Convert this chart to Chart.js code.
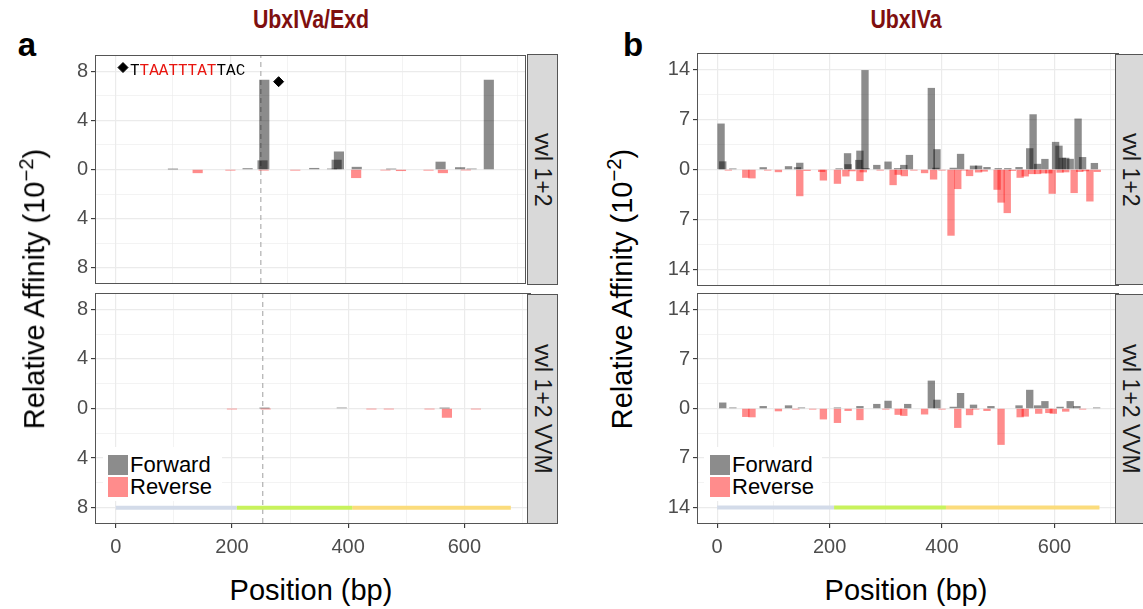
<!DOCTYPE html>
<html>
<head>
  <meta charset="utf-8">
  <title>Relative Affinity - UbxIVa/Exd and UbxIVa</title>
  <script src="https://cdn.jsdelivr.net/npm/chart.js@4.4.0/dist/chart.umd.min.js"></script>
  <style>
    body { margin: 0; background: #fff; font-family: "Liberation Sans", Arial, sans-serif; }
    #page { position: relative; width: 1143px; height: 609px; overflow: hidden; }
    .ctr { position: absolute; transform: translate(-50%, -50%); white-space: nowrap; }
    .panel { font-weight: bold; font-size: 33px; color: #000; }
    .title { font-weight: bold; font-size: 26px; color: #7f0f0f; transform: translate(-50%, -50%) scaleX(0.82); }
    .axt { font-size: 29px; color: #000; }
    .yt { transform: translate(-50%, -50%) rotate(-90deg); }
    .strip { position: absolute; box-sizing: border-box; background: #d9d9d9; border: 1px solid #555;
             display: flex; align-items: center; justify-content: center; }
    .strip span { writing-mode: vertical-rl; font-size: 23px; color: #1a1a1a; white-space: nowrap; }
    .legbox { position: absolute; background: #fff; }
    .sw { position: absolute; width: 20px; height: 20px; }
    .legtxt { position: absolute; font-size: 22px; line-height: 22px; color: #000; }
    .seq { position: absolute; font-family: "Liberation Mono", "DejaVu Sans Mono", monospace; font-size: 16px; line-height: 16px; color: #000; }
    .seq .r { color: #e8150f; }
    canvas { position: absolute; }
  </style>
</head>
<body>
<div id="page">
  <div class="ctr panel" style="left:27px; top:45px">a</div>
  <div class="ctr panel" style="left:633px; top:45px">b</div>
  <div class="ctr title" style="left:311px; top:19px">UbxIVa/Exd</div>
  <div class="ctr title" style="left:906px; top:19px">UbxIVa</div>

  <canvas id="aTop" width="483" height="239" style="left:48px; top:50px"></canvas>
  <canvas id="aBot" width="483" height="277" style="left:48px; top:290px"></canvas>
  <canvas id="bTop" width="469" height="239" style="left:650px; top:50px"></canvas>
  <canvas id="bBot" width="469" height="277" style="left:650px; top:290px"></canvas>

  <div class="strip" style="left:527px; top:54px; width:31px; height:231px"><span>vvl 1+2</span></div>
  <div class="strip" style="left:527px; top:294px; width:31px; height:230px"><span>vvl 1+2 VVM</span></div>
  <div class="strip" style="left:1115px; top:54px; width:31px; height:231px"><span>vvl 1+2</span></div>
  <div class="strip" style="left:1115px; top:294px; width:31px; height:230px"><span>vvl 1+2 VVM</span></div>

  <div class="seq" style="left:130px; top:63px">T<span class="r">TAATTTAT</span>TAC</div>

  <div class="legbox" style="left:103px; top:447px; width:119px; height:54px"></div>
  <div class="sw" style="left:108px; top:455px; background:#8c8c8c"></div>
  <div class="sw" style="left:108px; top:477px; background:#ff8c8c"></div>
  <div class="legtxt" style="left:130px; top:454px">Forward</div>
  <div class="legtxt" style="left:130px; top:476px">Reverse</div>

  <div class="legbox" style="left:704px; top:447px; width:118px; height:54px"></div>
  <div class="sw" style="left:710px; top:455px; background:#8c8c8c"></div>
  <div class="sw" style="left:710px; top:477px; background:#ff8c8c"></div>
  <div class="legtxt" style="left:732px; top:454px">Forward</div>
  <div class="legtxt" style="left:732px; top:476px">Reverse</div>

  <div class="ctr axt yt" style="left:33px; top:289px">Relative Affinity (10<sup style="font-size:0.7em">−2</sup>)</div>
  <div class="ctr axt yt" style="left:621px; top:289px">Relative Affinity (10<sup style="font-size:0.7em">−2</sup>)</div>
  <div class="ctr axt" style="left:311px; top:590px">Position (bp)</div>
  <div class="ctr axt" style="left:906px; top:590px">Position (bp)</div>
</div>

<script>
  // position (bp) -> affinity (x10^-2); reverse values are plotted downward
  const aTopForward = [[100, 0.03], [230, 0.08], [256, 0.72], [259, 7.28], [346, 0.1], [377, 0.05], [385, 0.77],
    [389, 1.44], [420, 0.19], [480, 0.04], [566, 0.61], [600, 0.16], [620, 0.05], [650, 7.28]];
  const aTopReverse = [[143, 0.27], [200, 0.06], [258, 0.06], [313, 0.06], [419, 0.67], [470, 0.05], [497, 0.1],
    [545, 0.06], [570, 0.27], [610, 0.04]];
  const aBotForward = [[256, 0.03], [389, 0.05], [566, 0.03]];
  const aBotReverse = [[200, 0.04], [258, 0.03], [440, 0.04], [470, 0.04], [540, 0.04], [570, 0.72], [620, 0.04]];

  const bTopForward = [[7, 6.4], [10, 1.1], [28, 0.1], [82, 0.28], [127, 0.42], [143, 0.28], [147, 0.9], [217, 0.12],
    [232, 2.24], [233, 0.7], [252, 1.3], [254, 2.6], [263, 13.9], [265, 0.15], [284, 0.6], [304, 1.07], [321, 0.15],
    [332, 0.6], [342, 2.0], [381, 11.4], [389, 0.2], [391, 2.8], [420, 0.2], [433, 2.15], [456, 0.5], [465, 0.5],
    [480, 0.3], [500, 0.15], [517, 0.15], [537, 0.3], [556, 2.94], [562, 7.7], [570, 0.75], [583, 1.44], [602, 3.83],
    [608, 3.3], [614, 1.6], [620, 1.6], [628, 1.45], [642, 7.1], [650, 1.7], [671, 0.87]];
  const bTopReverse = [[20, 0.1], [51, 1.12], [62, 1.2], [90, 0.1], [109, 0.33], [147, 3.7], [160, 0.15], [186, 0.3],
    [189, 1.5], [214, 1.96], [229, 0.93], [240, 0.2], [254, 1.58], [260, 0.35], [290, 0.1], [313, 2.15], [322, 0.7],
    [333, 0.9], [350, 0.1], [369, 0.47], [385, 1.36], [400, 0.1], [416, 9.24], [428, 2.7], [440, 0.1], [449, 0.88],
    [465, 0.37], [475, 0.25], [498, 2.8], [505, 4.6], [516, 6.07], [525, 0.15], [539, 1.12], [548, 0.93], [560, 0.6],
    [570, 0.6], [580, 0.5], [590, 0.5], [596, 3.36], [610, 0.4], [620, 0.35], [635, 3.26], [645, 0.3], [655, 0.2],
    [663, 4.44], [676, 0.3]];
  const bBotForward = [[10, 0.8], [28, 0.1], [82, 0.3], [127, 0.4], [150, 0.1], [214, 0.1], [254, 0.3], [284, 0.6],
    [304, 1.05], [339, 0.6], [381, 3.9], [391, 1.2], [420, 0.2], [433, 2.15], [456, 0.5], [487, 0.3], [537, 0.4],
    [556, 2.6], [570, 0.4], [583, 1.0], [610, 0.2], [628, 1.0], [640, 0.3], [675, 0.1]];
  const bBotReverse = [[51, 1.15], [62, 1.2], [109, 0.35], [140, 0.1], [170, 0.1], [189, 1.5], [214, 2.0], [233, 0.3],
    [254, 1.6], [300, 0.1], [322, 0.85], [332, 1.0], [369, 0.8], [400, 0.1], [428, 2.7], [449, 0.9], [460, 0.1],
    [480, 0.3], [505, 5.1], [539, 1.2], [548, 1.1], [572, 0.7], [590, 0.6], [598, 0.7], [620, 0.4], [650, 0.1]];

  // region track along the bottom of the lower facets
  const trackBreaks = [0, 208, 407, 680];
  const trackColors = ['#d3dbe9', '#c8f25c', '#fbdc7c'];

  // motif marks on panel a
  const motifLine = 253;
  const motifPoints = [[13, 8.3], [284, 7.15]];

  const xLabelTicks = [0, 200, 400, 600];
  const xRange = [-34, 713];
  const aYTicks = [-8, -4, 0, 4, 8];
  const bYTicks = [-14, -7, 0, 7, 14];
  const aYRange = 9.24;
  const bYRange = 16.2;

  Chart.defaults.font.family = '"Liberation Sans", Arial, sans-serif';

  function withMinor(major, upTo) {
    const step = major[1] - major[0];
    const out = [];
    for (let v = major[0] - step / 2; v <= upTo; v += step / 2) {
      if (v >= -upTo) out.push(v);
    }
    return out;
  }

  const frame = {
    id: 'frame',
    afterDraw(chart) {
      const a = chart.chartArea, c = chart.ctx;
      c.save();
      c.strokeStyle = '#555';
      c.lineWidth = 1;
      c.strokeRect(a.left - 0.5, a.top - 0.5, a.right - a.left + 1, a.bottom - a.top + 1);
      c.restore();
    }
  };

  function noPad(s) {
    s.paddingTop = 0; s.paddingBottom = 0; s.paddingLeft = 0; s.paddingRight = 0;
  }

  function facet(id, o) {
    const datasets = [
      { type: 'bar', data: o.fwd.map(p => ({ x: p[0], y: p[1] })), backgroundColor: 'rgba(0,0,0,0.45)',
        barThickness: o.bar, grouped: false, borderWidth: 0 },
      { type: 'bar', data: o.rev.map(p => ({ x: p[0], y: -p[1] })), backgroundColor: 'rgba(255,0,0,0.45)',
        barThickness: o.bar, grouped: false, borderWidth: 0 }
    ];
    if (o.track) {
      for (let i = 0; i < trackColors.length; i++) {
        datasets.push({ type: 'line', data: [{ x: trackBreaks[i], y: o.track }, { x: trackBreaks[i + 1], y: o.track }],
          borderColor: trackColors[i], borderWidth: 4, pointRadius: 0, borderCapStyle: 'butt' });
      }
    }
    if (o.dashed) {
      datasets.push({ type: 'line', data: [{ x: motifLine, y: -o.yMax }, { x: motifLine, y: o.yMax }],
        borderColor: '#b0b0b0', borderWidth: 1.2, borderDash: [5, 4], pointRadius: 0 });
    }
    if (o.points) {
      datasets.push({ type: 'line', showLine: false, data: motifPoints.map(p => ({ x: p[0], y: p[1] })),
        pointStyle: 'rectRot', pointRadius: 5, backgroundColor: '#000', borderColor: '#000' });
    }

    const xGrid = withMinor(xLabelTicks, xRange[1]).filter(v => v >= 0);
    const yGrid = withMinor(o.yTicks, o.yMax);
    const isMajorX = c => c.tick && xLabelTicks.includes(c.tick.value);
    const isMajorY = c => c.tick && o.yTicks.includes(c.tick.value);

    new Chart(document.getElementById(id), {
      type: 'bar',
      data: { datasets: datasets },
      options: {
        responsive: false,
        animation: false,
        devicePixelRatio: 1,
        layout: { padding: { top: 4, bottom: 4, left: 0, right: 1 } },
        plugins: { legend: { display: false }, tooltip: { enabled: false } },
        scales: {
          x: {
            type: 'linear', min: xRange[0], max: xRange[1], offset: false,
            afterBuildTicks: s => { s.ticks = xGrid.map(v => ({ value: v })); },
            afterFit: s => { s.height = o.showX ? 40 : 0; noPad(s); },
            ticks: { display: o.showX, autoSkip: false, maxRotation: 0, color: '#4d4d4d', font: { size: 20 }, padding: 7,
              callback: v => xLabelTicks.includes(v) ? String(v) : '' },
            grid: { color: '#ebebeb', lineWidth: c => isMajorX(c) ? 1.2 : 0.6, drawTicks: o.showX, tickLength: 5,
              offset: false, tickColor: c => isMajorX(c) ? '#333' : 'rgba(0,0,0,0)', tickWidth: 1.1 },
            border: { display: false }
          },
          y: {
            min: -o.yMax, max: o.yMax,
            afterBuildTicks: s => { s.ticks = yGrid.map(v => ({ value: v })); },
            afterFit: s => { s.width = 48; noPad(s); },
            ticks: { autoSkip: false, color: '#4d4d4d', font: { size: 20 }, padding: 3,
              callback: v => o.yTicks.includes(v) ? String(Math.abs(v)) : '' },
            grid: { color: '#ebebeb', lineWidth: c => isMajorY(c) ? 1.2 : 0.6, tickLength: 5,
              tickColor: c => isMajorY(c) ? '#333' : 'rgba(0,0,0,0)', tickWidth: 1.1 },
            border: { display: false }
          }
        }
      },
      plugins: [frame]
    });
  }

  facet('aTop', { fwd: aTopForward, rev: aTopReverse, yTicks: aYTicks, yMax: aYRange, bar: 9.5, showX: false,
    dashed: true, points: true });
  facet('aBot', { fwd: aBotForward, rev: aBotReverse, yTicks: aYTicks, yMax: aYRange, bar: 9.5, showX: true,
    dashed: true, track: -8 });
  facet('bTop', { fwd: bTopForward, rev: bTopReverse, yTicks: bYTicks, yMax: bYRange, bar: 6.7, showX: false });
  facet('bBot', { fwd: bBotForward, rev: bBotReverse, yTicks: bYTicks, yMax: bYRange, bar: 6.7, showX: true,
    track: -14 });
</script>
</body>
</html>
